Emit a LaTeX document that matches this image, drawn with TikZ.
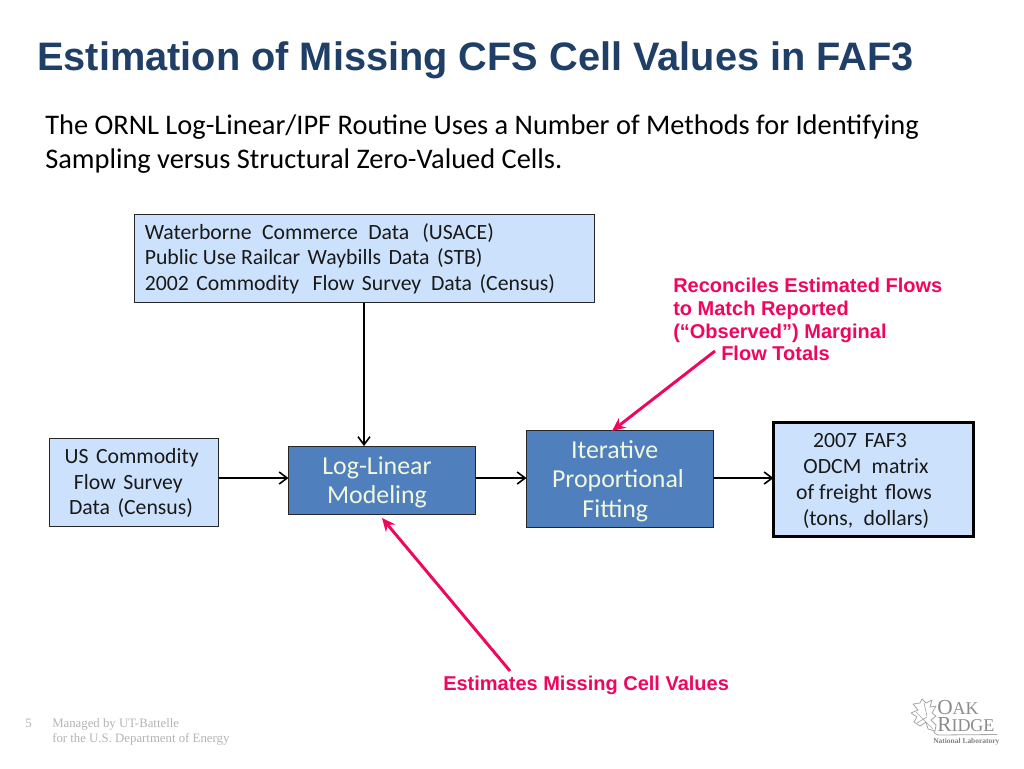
\documentclass[tikz,border=0pt]{standalone}
\usepackage{fontspec}
\setmainfont{Carlito}
\newfontfamily\arialf{Liberation Sans}
\newfontfamily\timesf{Liberation Serif}
\usetikzlibrary{arrows.meta}
\definecolor{titleblue}{HTML}{1F3F66}
\definecolor{lightbox}{HTML}{CCE2FC}
\definecolor{midbox}{HTML}{4F7FBC}
\definecolor{hotpink}{HTML}{F0055F}
\definecolor{footgray}{HTML}{B4B4B4}
\definecolor{boxtext}{HTML}{F2F8DC}
\newcommand{\wsp}{\hspace{.25em}}
\newcommand{\nsp}{\hspace{.12em}}
\tikzset{
 lightnode/.style={draw=black!85,line width=.8pt,fill=lightbox,inner sep=0pt,outer sep=0pt,anchor=north west},
 darknode/.style={draw=black!85,line width=.8pt,fill=midbox,inner sep=0pt,outer sep=0pt,anchor=north west},
 flow/.style={draw=black,line width=1.4pt,-{Straight Barb[length=6pt,width=9pt,line width=1.2pt]}},
 note/.style={draw=hotpink,line width=2.2pt,-{Stealth[length=10pt,width=9pt]}},
 boxlabel/.style={font=\fontsize{16.3}{19.3}\selectfont,text=black!90,align=center,inner sep=0pt},
 darklabel/.style={font=\fontsize{19.4}{22}\selectfont,text=boxtext,align=center,inner sep=0pt},
 pinklabel/.style={font=\arialf\bfseries\fontsize{15}{17}\selectfont,text=hotpink,align=left,inner sep=0pt,anchor=north west},
 foot/.style={font=\timesf\fontsize{9.6}{11}\selectfont,text=footgray,inner sep=0pt,anchor=base west,align=left},
}
\begin{document}
\begin{tikzpicture}[x=0.75pt,y=-0.75pt]
\useasboundingbox (0,0) rectangle (1024,768);
\fill[white] (0,0) rectangle (1024,768);
% title and intro
\node[font=\arialf\bfseries\fontsize{29.8}{32}\selectfont,text=titleblue,anchor=base west,inner sep=0pt] (title) at (37,70) {Estimation of Missing CFS Cell Values in FAF3};
\node[font=\fontsize{21.3}{25.5}\selectfont,text=black,anchor=north west,align=left,inner sep=0pt] (intro) at (45,115) {The ORNL Log-Linear/IPF Routine Uses a Number of Methods for Identifying\\Sampling versus Structural Zero-Valued Cells.};
% boxes
\node[lightnode,minimum width=345pt,minimum height=66pt] (data) at (134.5,214.5) {};
\node[boxlabel,anchor=north west,align=left] (datat) at (144.5,223) {Waterborne\wsp{} Commerce\wsp{} Data\wsp{} \hspace{2pt}(USACE)\\Public Use Railcar\nsp{} Waybills\nsp{} Data\nsp{} (STB)\\2002\hspace{2pt} Commodity\ \ \,Flow\nsp{} Survey\ \ Data\nsp{} (Census)};
\node[lightnode,minimum width=127pt,minimum height=66pt] (us) at (49.5,438.5) {};
\node[boxlabel] (ust) at (131,483) {\hspace{1pt}US\nsp{} Commodity\\\hspace*{-4pt}Flow\nsp{} Survey\\Data\nsp{} (Census)};
\node[darknode,minimum width=140.5pt,minimum height=51pt] (log) at (288.5,446.5) {};
\node[darklabel] (logt) at (377,482) {Log-Linear\\Modeling};
\node[darknode,minimum width=140.5pt,minimum height=72.5pt] (ipf) at (526.5,430.5) {};
\node[darklabel] (ipft) at (618,481) {\hspace*{-5pt}Iterative\\Proportional\\\hspace*{-4pt}Fitting};
\node[lightnode,draw=black,line width=2.2pt,minimum width=150pt,minimum height=85.5pt] (out) at (773.5,422.5) {};
\node[boxlabel] (outt) at (864,481) {\hspace*{-6pt}2007\nsp{} FAF3\\\hspace*{3pt}ODCM\wsp{} matrix\\of freight\nsp{} flows\\\hspace*{3pt}(tons,\wsp{} dollars)};
% pink labels
\node[pinklabel] (rec) at (673,278) {Reconciles Estimated Flows\\to Match Reported\\(“Observed”) Marginal\\\hspace*{36pt}Flow Totals};
\node[pinklabel,anchor=base west] (est) at (443,690) {Estimates Missing Cell Values};
% connectors
\coordinate (ctop) at (364,303);
\coordinate (clog) at (364,446);
\draw[flow] (ctop) -- (clog);
\draw[flow] (us.east|-0,478) -- (log.west|-0,478);
\draw[flow] (log.east|-0,478) -- (ipf.west|-0,478);
\draw[flow] (ipf.east|-0,478) -- (out.west|-0,478);
\coordinate (n1) at (715,351);
\coordinate (n1e) at (612,431);
\draw[note] (n1) -- (n1e);
\coordinate (n2) at (510,671);
\coordinate (n2e) at (382,518);
\draw[note] (n2) -- (n2e);
% footer
\node[foot] (pg) at (25,727) {5};
\node[foot] (mg) at (52,727) {Managed by UT-Battelle};
\node[foot] (mg2) at (52,742) {for the U.S. Department of Energy};
% logo
\node[font=\timesf\fontsize{16}{12.75}\selectfont,text=black!45,inner sep=0pt,anchor=north west,align=left] (oak) at (937,700.5) {O\fontsize{13.5}{12.75}\selectfont AK\\\fontsize{16}{12.75}\selectfont R\fontsize{13.5}{12.75}\selectfont IDGE};
\node[font=\timesf\bfseries\fontsize{5.6}{7}\selectfont,text=black!50,inner sep=0pt,anchor=base west] (nl) at (933,743.5) {National Laboratory};
\draw[black!35,line width=.6pt] (938,735) -- (997,734.5);
\draw[black!35,line width=.6pt] (933,729) .. controls (934,733) and (936,735) .. (938,735);
\draw[black!35,fill=white,line width=.6pt,line join=round]
 (935,731) -- (928,729) -- (926,722) -- (920,726) -- (914,722) -- (917,717) -- (911,713) -- (918,710) -- (913,704) -- (920,703) -- (922,699) -- (926,703) -- (932,700) -- (930,707) -- (936,706) -- (932,713) -- (936,716) -- (931,720) -- (936,725) -- cycle;
\draw[black!35,line width=.5pt] (916,712) -- (933,729) (924,703) -- (927,716) (917,723) -- (927,717);
\end{tikzpicture}
\end{document}
